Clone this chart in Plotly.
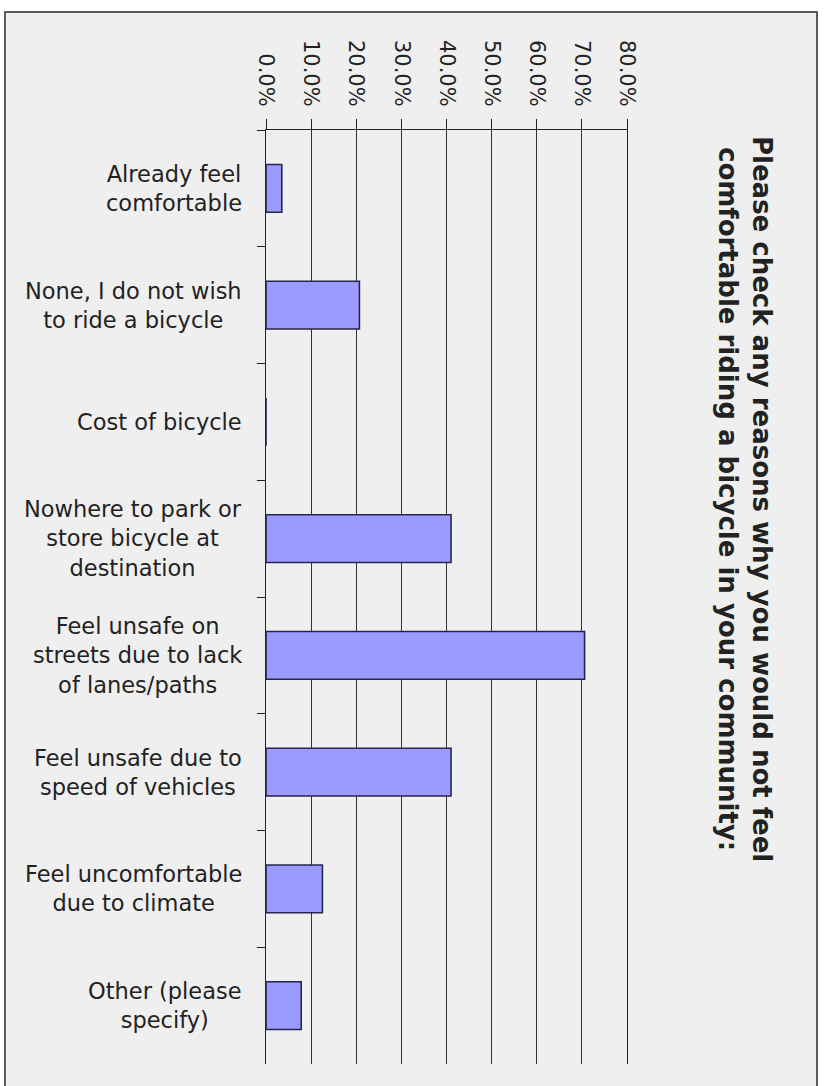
import plotly.graph_objects as go

# Survey responses: share of respondents choosing each reason
categories = [
    "Already feel comfortable",
    "None, I do not wish to ride a bicycle",
    "Cost of bicycle",
    "Nowhere to park or store bicycle at destination",
    "Feel unsafe on streets due to lack of lanes/paths",
    "Feel unsafe due to speed of vehicles",
    "Feel uncomfortable due to climate",
    "Other (please specify)",
]
# Wrapped versions of the category names, as printed beside the bars
category_labels = [
    "Already feel<br>comfortable",
    "None, I do not wish<br>to ride a bicycle",
    "Cost of bicycle",
    "Nowhere to park or<br>store bicycle at<br>destination",
    "Feel unsafe on<br>streets due to lack<br>of lanes/paths",
    "Feel unsafe due to<br>speed of vehicles",
    "Feel uncomfortable<br>due to climate",
    "Other (please<br>specify)",
]
percent = [3.5, 20.7, 0.0, 41.0, 70.6, 41.0, 12.5, 7.8]
tick_values = [0, 10, 20, 30, 40, 50, 60, 70, 80]
tick_labels = ["0.0%", "10.0%", "20.0%", "30.0%", "40.0%", "50.0%", "60.0%", "70.0%", "80.0%"]

title_text = ("Please check any reasons why you would not feel<br>"
              "comfortable riding a bicycle in your community:")

W, H = 824, 1086
L, R, T, B = 266, 197, 130, 22
plot_w = W - L - R
plot_h = H - T - B


def px_x(px):
    return (px - L) / plot_w


def px_y(py):
    return (H - B - py) / plot_h


fig = go.Figure(
    go.Bar(
        x=percent,
        y=categories,
        orientation="h",
        width=0.41,
        marker=dict(color="#9b9bff", line=dict(color="#26264d", width=1.6)),
        hoverinfo="skip",
    )
)

# Category names drawn as centred multi-line labels to the left of the axis
label_annotations = [
    dict(
        text=lab, xref="paper", yref="y", x=px_x(244), y=cat,
        xanchor="right", yanchor="middle", align="center", showarrow=False,
        font=dict(family="DejaVu Sans", size=22.5, color="#222222"),
    )
    for cat, lab in zip(categories, category_labels)
]

fig.update_layout(
    width=W,
    height=H,
    margin=dict(l=L, r=R, t=T, b=B),
    paper_bgcolor="white",
    plot_bgcolor="#f1f1f1",
    showlegend=False,
    font=dict(family="DejaVu Sans", color="#222222"),
    shapes=[
        dict(
            type="rect", xref="paper", yref="paper", layer="below",
            x0=px_x(5), x1=px_x(817), y0=px_y(1095), y1=px_y(12),
            fillcolor="#efefef", line=dict(color="#5a5a5a", width=2),
        )
    ],
    annotations=label_annotations + [
        dict(
            text=title_text, xref="paper", yref="paper",
            x=px_x(745), y=px_y(499), xanchor="center", yanchor="middle",
            textangle=90, showarrow=False, align="center",
            font=dict(family="DejaVu Sans", size=26, color="#222222", weight="bold"),
        )
    ],
)

fig.update_xaxes(
    side="top",
    range=[0, 80],
    tickmode="array",
    tickvals=tick_values,
    ticktext=tick_labels,
    tickangle=90,
    tickfont=dict(family="DejaVu Sans", size=21, color="#222222"),
    ticks="outside",
    ticklen=10,
    tickcolor="#222222",
    ticklabelstandoff=5,
    showline=True,
    linecolor="#222222",
    linewidth=1,
    showgrid=True,
    gridcolor="#333333",
    gridwidth=1,
    zeroline=False,
    mirror=False,
)

fig.update_yaxes(
    type="category",
    autorange="reversed",
    tickson="boundaries",
    ticks="outside",
    ticklen=8,
    tickcolor="#222222",
    showticklabels=False,
    showline=True,
    mirror=True,
    linecolor="#222222",
    linewidth=1,
    showgrid=False,
    zeroline=False,
)

fig.write_html("out.html")
